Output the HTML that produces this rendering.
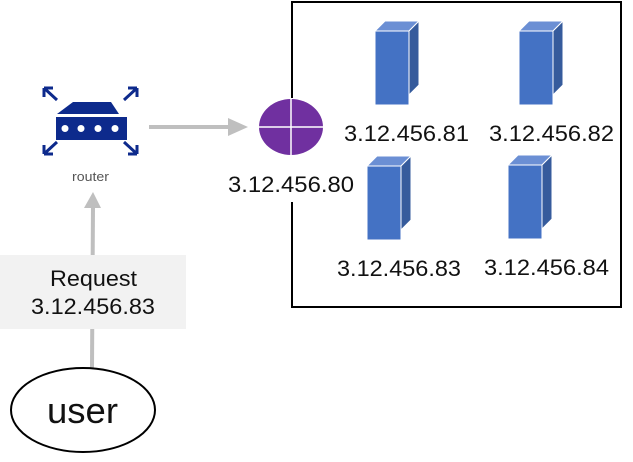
<!DOCTYPE html>
<html><head><style>
body{margin:0;background:#fff;width:633px;height:457px;overflow:hidden}
text{font-family:"Liberation Sans",sans-serif}
</style></head><body>
<svg width="633" height="457" viewBox="0 0 633 457" xmlns="http://www.w3.org/2000/svg">
<defs>
<g id="srv">
<polygon points="0,10 10,0 44,0 34,10" fill="#6b8fd4" stroke="#fff" stroke-width="1"/>
<polygon points="34,10 44,0 44,64 34,74" fill="#365b9c" stroke="#fff" stroke-width="1"/>
<rect x="0" y="10" width="34" height="74" fill="#4472c4" stroke="#fff" stroke-width="1"/>
</g>
</defs>
<polyline points="292,98 292,2 621,2 621,307 292,307 292,202" fill="none" stroke="#000" stroke-width="2"/>
<use href="#srv" x="375" y="21"/>
<use href="#srv" x="519" y="21"/>
<use href="#srv" x="367" y="156"/>
<use href="#srv" x="508" y="155"/>
<g font-size="22" fill="#111">
<text x="344" y="141" textLength="125" lengthAdjust="spacingAndGlyphs">3.12.456.81</text>
<text x="489" y="141" textLength="125" lengthAdjust="spacingAndGlyphs">3.12.456.82</text>
<text x="228" y="192" textLength="126" lengthAdjust="spacingAndGlyphs">3.12.456.80</text>
<text x="337" y="276" textLength="124" lengthAdjust="spacingAndGlyphs">3.12.456.83</text>
<text x="484" y="275" textLength="125" lengthAdjust="spacingAndGlyphs">3.12.456.84</text>
</g>
<ellipse cx="291" cy="127" rx="32" ry="28" fill="#7030a0"/>
<line x1="259" y1="127" x2="323" y2="127" stroke="#fff" stroke-width="1.5"/>
<line x1="291" y1="99" x2="291" y2="155" stroke="#fff" stroke-width="1.5"/>
<line x1="149" y1="127" x2="230" y2="127" stroke="#bfbfbf" stroke-width="4"/>
<polygon points="228,118 248,127 228,136" fill="#bfbfbf"/>
<g fill="#0d2a8c">
<polygon points="57,114 119,114 111,102 73,102"/>
<rect x="56" y="117" width="71" height="23"/>
</g>
<g fill="#fff"><circle cx="65" cy="128.5" r="3.5"/><circle cx="81" cy="128.5" r="3.5"/><circle cx="98" cy="128.5" r="3.5"/><circle cx="115" cy="128.5" r="3.5"/></g>
<g stroke="#0d2a8c" stroke-width="3" fill="none">
<path d="M44,88 L57,100 M44,88 h9 M44,88 v9"/>
<path d="M137,88 L124,100 M137,88 h-9 M137,88 v9"/>
<path d="M44,154 L57,142 M44,154 h9 M44,154 v-9"/>
<path d="M137,154 L124,142 M137,154 h-9 M137,154 v-9"/>
</g>
<text x="72" y="181" font-size="13" fill="#555" textLength="37" lengthAdjust="spacingAndGlyphs">router</text>
<line x1="92" y1="368" x2="93" y2="205" stroke="#bfbfbf" stroke-width="4"/>
<polygon points="84,208 93,192 101,208" fill="#bfbfbf"/>
<rect x="0" y="255" width="186" height="74" fill="#f2f2f2"/>
<text x="50" y="286" font-size="22" fill="#111" textLength="87" lengthAdjust="spacingAndGlyphs">Request</text>
<text x="31" y="314" font-size="22" fill="#111" textLength="124" lengthAdjust="spacingAndGlyphs">3.12.456.83</text>
<ellipse cx="83" cy="410" rx="72" ry="42" fill="#fff" stroke="#000" stroke-width="2"/>
<text x="47" y="423" font-size="36" fill="#111" textLength="71" lengthAdjust="spacingAndGlyphs">user</text>
</svg>
</body></html>
